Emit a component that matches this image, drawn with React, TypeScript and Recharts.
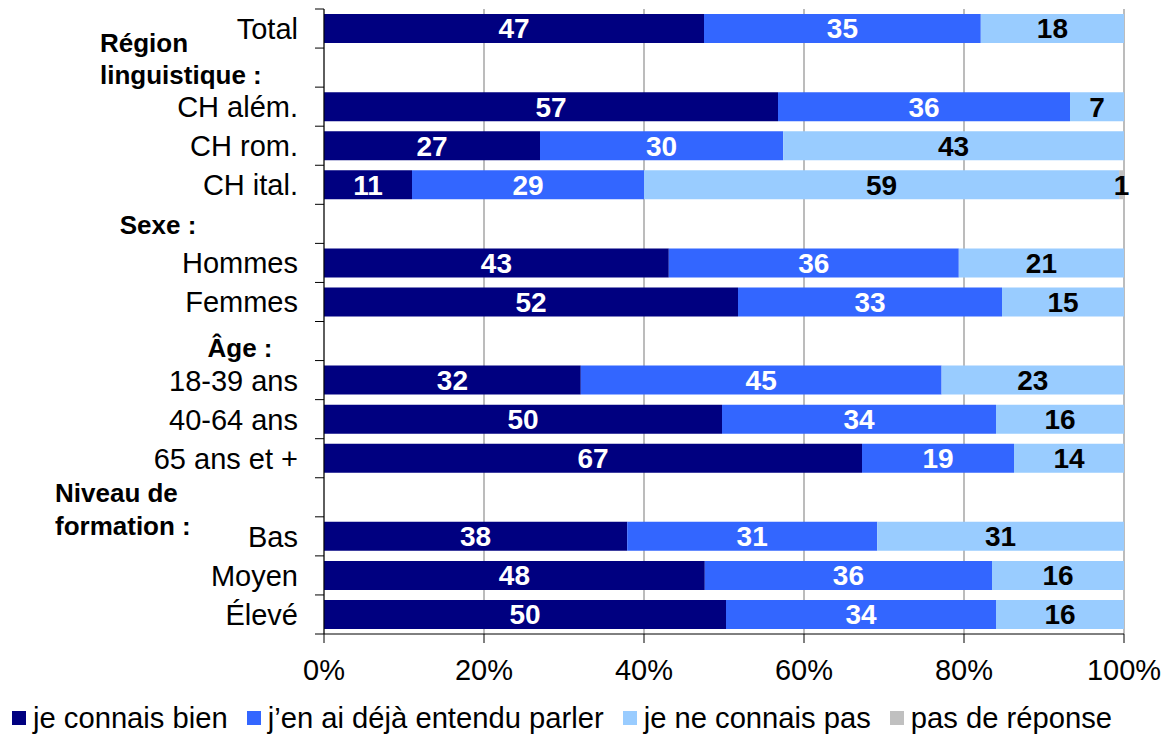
import React from 'react';
import { BarChart, Bar, XAxis, YAxis, CartesianGrid, LabelList, Legend } from 'recharts';

const categories = [
  'Total',
  'Région linguistique :',
  'CH além.',
  'CH rom.',
  'CH ital.',
  'Sexe :',
  'Hommes',
  'Femmes',
  'Âge :',
  '18-39 ans',
  '40-64 ans',
  '65 ans et +',
  'Niveau de formation :',
  'Bas',
  'Moyen',
  'Élevé',
];

const seriesNames = ['je connais bien', 'j’en ai déjà entendu parler', 'je ne connais pas', 'pas de réponse'];

// bar lengths (percent)
const knowWellValues = [47.5, null, 56.75, 27.0, 11.0, null, 43.1, 51.75, null, 32.1, 49.75, 67.25, null, 37.9, 47.6, 50.25];
const heardOfValues = [34.6, null, 36.5, 30.4, 29.0, null, 36.25, 33.0, null, 45.1, 34.25, 19.0, null, 31.25, 35.9, 33.75];
const notKnownValues = [17.9, null, 6.75, 42.6, 59.4, null, 20.65, 15.25, null, 22.8, 16.0, 13.75, null, 30.85, 16.5, 16.0];
const noAnswerValues = [0, null, 0, 0, 0.6, null, 0, 0, null, 0, 0, 0, null, 0, 0, 0];

// labels as printed on the bars
const knowWellLabels = [47, null, 57, 27, 11, null, 43, 52, null, 32, 50, 67, null, 38, 48, 50];
const heardOfLabels = [35, null, 36, 30, 29, null, 36, 33, null, 45, 34, 19, null, 31, 36, 34];
const notKnownLabels = [18, null, 7, 43, 59, null, 21, 15, null, 23, 16, 14, null, 31, 16, 16];
const noAnswerLabels = [null, null, null, null, 1, null, null, null, null, null, null, null, null, null, null, null];

const xTicks = [0, 20, 40, 60, 80, 100];

const data = categories.map((cat, i) => ({
  cat,
  s1: knowWellValues[i],
  s2: heardOfValues[i],
  s3: notKnownValues[i],
  s4: noAnswerValues[i],
  l1: knowWellLabels[i],
  l2: heardOfLabels[i],
  l3: notKnownLabels[i],
  l4: noAnswerLabels[i],
}));

const FONT = '"Liberation Sans", Arial, Helvetica, sans-serif';
const COLORS = ['#000080', '#3366FF', '#99CCFF', '#C0C0C0'];

const W = 1161;
const H = 734;
const MARGIN = { top: 9, right: 37, bottom: 60, left: 0 };
const Y_AXIS_W = 324;
const X_AXIS_H = 40;
const PLOT_H = H - MARGIN.top - MARGIN.bottom - X_AXIS_H;

const headerLayout: Record<string, { lines: string[]; x: number; anchor: string; dys: number[] }> = {
  'Région linguistique :': { lines: ['Région', 'linguistique :'], x: 100, anchor: 'start', dys: [-25, 7] },
  'Sexe :': { lines: ['Sexe :'], x: 158, anchor: 'middle', dys: [1] },
  'Âge :': { lines: ['Âge :'], x: 240, anchor: 'middle', dys: [7] },
  'Niveau de formation :': { lines: ['Niveau de', 'formation :'], x: 55, anchor: 'start', dys: [-5, 28] },
};

function CategoryTick(props: any) {
  const { y, payload, index } = props;
  const name = payload.value as string;
  const band = PLOT_H / categories.length;
  const axisX = Y_AXIS_W;
  const marks = [
    <line key="m1" x1={axisX - 9} x2={axisX} y1={y - band / 2} y2={y - band / 2} stroke="#000" strokeWidth={1} />,
  ];
  if (index === categories.length - 1) {
    marks.push(
      <line key="m2" x1={axisX - 9} x2={axisX} y1={y + band / 2} y2={y + band / 2} stroke="#000" strokeWidth={1} />
    );
  }
  const h = headerLayout[name];
  if (h) {
    return (
      <g>
        {marks}
        {h.lines.map((ln, k) => (
          <text
            key={k}
            x={h.x}
            y={y + h.dys[k]}
            dy="0.36em"
            textAnchor={h.anchor as any}
            fontFamily={FONT}
            fontSize={26}
            fontWeight="bold"
            fill="#000"
          >
            {ln}
          </text>
        ))}
      </g>
    );
  }
  return (
    <g>
      {marks}
      <text x={axisX - 26} y={y} dy="0.36em" textAnchor="end" fontFamily={FONT} fontSize={29} fill="#000">
        {name}
      </text>
    </g>
  );
}

function LegendContent() {
  return (
    <div style={{ display: 'flex', alignItems: 'center', fontFamily: FONT, fontSize: 29.2, color: '#000', whiteSpace: 'nowrap', lineHeight: '32px' }}>
      {seriesNames.map((n, i) => (
        <div key={n} style={{ display: 'flex', alignItems: 'center', marginRight: 19 }}>
          <span style={{ display: 'inline-block', width: 14, height: 14, background: COLORS[i], marginRight: 7 }} />
          <span>{n}</span>
        </div>
      ))}
    </div>
  );
}

const labelProps = { position: 'center' as const, fontSize: 28, fontWeight: 'bold', fontFamily: FONT };

export default function App() {
  return (
    <div style={{ position: 'absolute', left: 0, top: 0, width: W, height: H, background: '#fff' }}>
      <BarChart width={W} height={H} data={data} layout="vertical" margin={MARGIN} barSize={29}>
        <CartesianGrid horizontal={false} vertical={true} stroke="#A6A6A6" strokeWidth={1.5} />
        <XAxis
          type="number"
          domain={[0, 100]}
          ticks={xTicks}
          tickFormatter={(v: number) => `${v}%`}
          height={X_AXIS_H}
          axisLine={{ stroke: '#000' }}
          tickLine={{ stroke: '#000' }}
          tickSize={9}
          tickMargin={16}
          tick={{ fill: '#000', fontSize: 29, fontFamily: FONT }}
          allowDataOverflow
        />
        <YAxis
          type="category"
          dataKey="cat"
          width={Y_AXIS_W}
          interval={0}
          tickLine={false}
          axisLine={{ stroke: '#000' }}
          tick={<CategoryTick />}
        />
        <Legend
          layout="horizontal"
          verticalAlign="middle"
          align="center"
          content={<LegendContent />}
          wrapperStyle={{ top: 702, left: 12, width: 1149 }}
        />
        <Bar dataKey="s1" stackId="a" fill={COLORS[0]} name={seriesNames[0]} isAnimationActive={false}>
          <LabelList dataKey="l1" {...labelProps} fill="#FFFFFF" />
        </Bar>
        <Bar dataKey="s2" stackId="a" fill={COLORS[1]} name={seriesNames[1]} isAnimationActive={false}>
          <LabelList dataKey="l2" {...labelProps} fill="#FFFFFF" />
        </Bar>
        <Bar dataKey="s3" stackId="a" fill={COLORS[2]} name={seriesNames[2]} isAnimationActive={false}>
          <LabelList dataKey="l3" {...labelProps} fill="#000000" />
        </Bar>
        <Bar dataKey="s4" stackId="a" fill={COLORS[3]} name={seriesNames[3]} isAnimationActive={false}>
          <LabelList dataKey="l4" {...labelProps} fill="#000000" />
        </Bar>
      </BarChart>
    </div>
  );
}
